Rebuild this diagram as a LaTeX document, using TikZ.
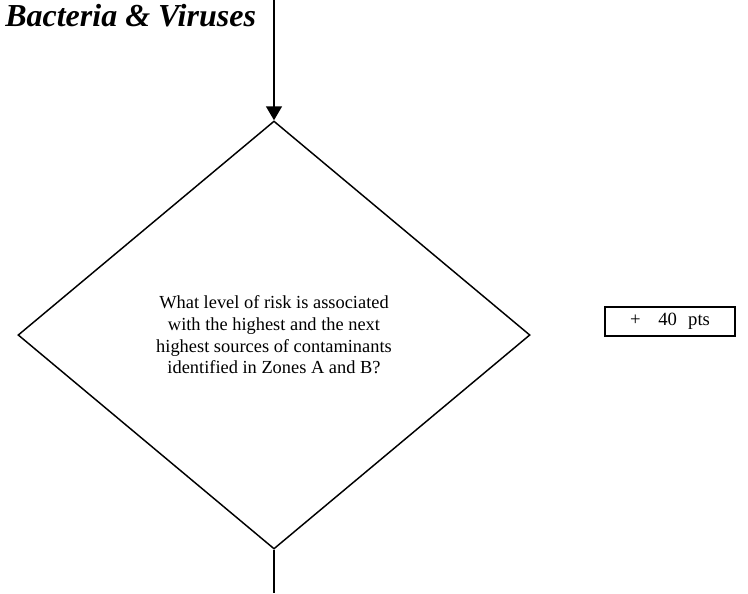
\documentclass[tikz,border=0pt]{standalone}
\usepackage{fontspec}
\setmainfont{Liberation Serif}
\usepackage{tikz}
\usetikzlibrary{shapes.geometric, arrows.meta, positioning}

\begin{document}
\begin{tikzpicture}[
        x=0.75pt, y=-0.75pt,
        % Style for the decision (diamond)
        decision/.style={
            diamond, draw=black, line width=1.1pt,
            minimum width=384pt, minimum height=321pt,
            inner sep=0pt, align=center,
            font=\fontsize{13.8}{16.2}\selectfont
        },
        % Style for the score box
        scorebox/.style={
            rectangle, draw=black, line width=1.6pt,
            minimum width=97.5pt, minimum height=21.75pt,
            inner sep=0pt, font=\fontsize{14}{16}\selectfont
        },
        flow/.style={line width=1.1pt}
    ]

        % 0. Canvas
        \useasboundingbox (0,0) rectangle (748,593);

        % 1. Title
        \node[anchor=base west, inner sep=0pt, font=\fontsize{24}{28}\selectfont\bfseries\itshape] (title) at (5,26) {Bacteria \& Viruses};

        % 2. Decision and score
        \node[decision] (risk) at (274,335) {What level of risk is associated\\with the highest and the next\\highest sources of contaminants\\identified in Zones A and B?};
        \node[scorebox] (pts) at (670,321.5) {+\hspace{0.95em}40\hspace{0.6em}pts};

        % 3. Flow in and out
        \coordinate (in)  at (274,0);
        \coordinate (out) at (274,593);
        \draw[flow, -{Triangle[length=10.5pt, width=12pt]}] (in) -- (risk.north);
        \draw[flow] (risk.south) -- (out);

\end{tikzpicture}
\end{document}
